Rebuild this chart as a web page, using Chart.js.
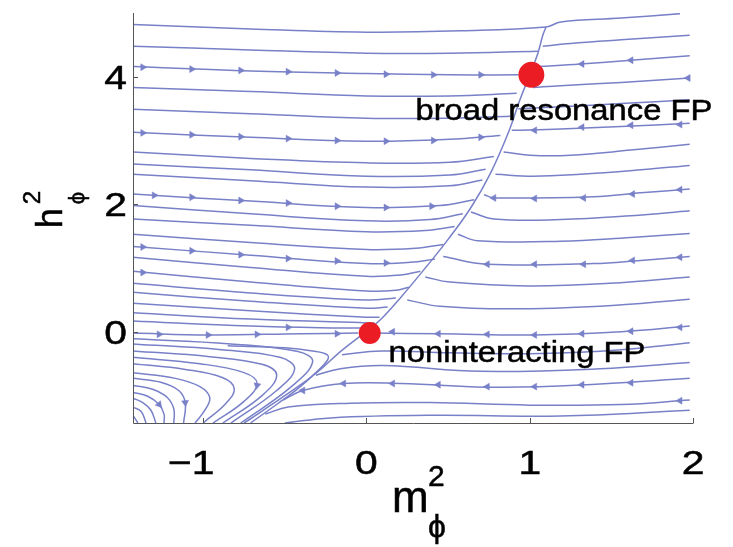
<!DOCTYPE html>
<html><head><meta charset="utf-8">
<script src="https://cdn.jsdelivr.net/npm/chart.js@4"></script>
<style>html,body{margin:0;padding:0;background:#fff}#wrap{width:733px;height:547px}</style>
</head><body><div id="wrap"><canvas id="c" width="733" height="547"></canvas></div>
<script>
// ---------- data (in m_phi^2 / h_phi^2 units) ----------
const xTicks = [-1, 0, 1, 2];
const xTickLabels = ['\u22121', '0', '1', '2'];
const yTicks = [0, 2, 4];
const yTickLabels = ['0', '2', '4'];

const fixedPoints = [[0.02, -0.02], [1.01, 4.03]];
const fixedPointLabels = ['noninteracting FP', 'broad resonance FP'];

const separatrix = [[-0.75,-1.43],[-0.66,-1.28],[-0.54,-1.07],[-0.42,-0.86],[-0.29,-0.61],[-0.16,-0.31],[-0.05,-0.09],[0,0],[0.09,0.20],[0.21,0.54],[0.36,1.00],[0.50,1.45],[0.64,1.95],[0.76,2.49],[0.87,3.13],[0.94,3.64],[1.00,4.03],[1.05,4.37],[1.08,4.65],[1.10,4.78]];

const topLine = [[-1.43,4.82],[-0.71,4.75],[0,4.70],[0.58,4.72],[1.10,4.78],[1.19,4.86],[1.56,4.92],[1.92,4.99]];

const leftLines = [
  [[-1.43,4.48],[-0.71,4.42],[0,4.37],[0.51,4.37],[1.05,4.40]],
  [[-1.43,4.16],[-0.71,4.09],[0,4.05],[0.51,4.03],[0.93,4.03]],
  [[-1.43,3.83],[-0.71,3.77],[0,3.70],[0.51,3.70],[0.92,3.74]],
  [[-1.43,3.49],[-0.71,3.42],[0,3.35],[0.51,3.35],[0.88,3.38]],
  [[-1.43,3.13],[-0.71,3.05],[0,2.99],[0.51,3.02],[0.82,3.08]],
  [[-1.43,2.82],[-0.71,2.72],[0,2.65],[0.51,2.66],[0.78,2.75]],
  [[-1.43,2.63],[-0.71,2.54],[0,2.44],[0.51,2.46],[0.73,2.55]],
  [[-1.43,2.47],[-0.71,2.37],[0,2.27],[0.51,2.29],[0.71,2.38]],
  [[-1.43,2.16],[-0.71,2.05],[0,1.95],[0.45,1.98],[0.66,2.07]],
  [[-1.43,1.98],[-0.71,1.85],[0,1.74],[0.39,1.76],[0.59,1.85]],
  [[-1.43,1.77],[-0.71,1.67],[0,1.57],[0.36,1.59],[0.54,1.65]],
  [[-1.43,1.53],[-0.71,1.40],[0,1.29],[0.30,1.31],[0.47,1.37]],
  [[-1.43,1.34],[-0.71,1.20],[0,1.07],[0.27,1.09],[0.42,1.14]],
  [[-1.43,1.17],[-0.71,1.01],[0,0.87],[0.21,0.89],[0.33,0.95]],
  [[-1.43,0.95],[-0.71,0.78],[0,0.64],[0.18,0.65],[0.26,0.70]],
  [[-1.43,0.76],[-0.71,0.61],[0,0.50],[0.18,0.53]],
  [[-1.43,0.62],[-0.71,0.48],[0,0.37],[0.13,0.39]],
  [[-1.43,0.45],[-0.71,0.33],[0,0.23],[0.08,0.23]],
  [[-1.43,0.30],[-0.71,0.20],[0,0.14],[0.05,0.14]],
  [[-1.43,0.17],[-0.71,0.09],[-0.16,0.06],[0,0.06]],
  [[-1.43,-0.02],[-0.97,-0.05],[-0.40,-0.03],[-0.05,-0.02]]
];

const lowerLeftLines = [
  [[-0.85,-0.22],[-0.50,-0.25],[-0.33,-0.30],[-0.24,-0.36],[-0.24,-0.45],[-0.31,-0.64],[-0.42,-0.89],[-0.54,-1.12],[-0.71,-1.43]],
  [[-1.43,-0.11],[-0.83,-0.19],[-0.42,-0.31],[-0.33,-0.47],[-0.46,-0.86],[-0.77,-1.43]],
  [[-1.43,-0.19],[-0.89,-0.28],[-0.53,-0.40],[-0.44,-0.58],[-0.55,-0.92],[-0.83,-1.43]],
  [[-1.43,-0.30],[-0.96,-0.39],[-0.64,-0.51],[-0.55,-0.68],[-0.64,-1.00],[-0.88,-1.43]],
  [[-1.43,-0.40],[-1.02,-0.50],[-0.75,-0.64],[-0.67,-0.81],[-0.75,-1.09],[-0.94,-1.43]],
  [[-1.43,-0.50],[-1.11,-0.59],[-0.88,-0.72],[-0.81,-0.89],[-0.86,-1.12],[-1.00,-1.43]],
  [[-1.43,-0.64],[-1.17,-0.73],[-1.02,-0.86],[-0.96,-1.03],[-0.99,-1.23],[-1.05,-1.43]],
  [[-1.43,-0.73],[-1.26,-0.79],[-1.15,-0.92],[-1.11,-1.11],[-1.12,-1.43]],
  [[-1.43,-0.84],[-1.31,-0.90],[-1.22,-1.03],[-1.18,-1.21],[-1.18,-1.43]],
  [[-1.43,-0.95],[-1.34,-1.01],[-1.27,-1.14],[-1.24,-1.29],[-1.24,-1.43]],
  [[-1.43,-1.04],[-1.37,-1.11],[-1.32,-1.23],[-1.29,-1.43]],
  [[-1.43,-1.18],[-1.38,-1.25],[-1.35,-1.43]],
  [[-1.43,-1.31],[-1.40,-1.43]]
];

const rightLines = [
  [[1.08,4.48],[1.28,4.53],[1.56,4.58],[1.98,4.65]],
  [[1.05,4.16],[1.31,4.20],[1.62,4.26],[1.98,4.33]],
  [[1.02,3.83],[1.19,3.86],[1.56,3.91],[1.98,3.98]],
  [[0.93,3.50],[1.19,3.53],[1.56,3.58],[1.98,3.64]],
  [[0.89,3.16],[1.19,3.18],[1.56,3.22],[1.98,3.27]],
  [[0.84,2.82],[1.00,2.77],[1.25,2.77],[1.62,2.85],[1.98,2.94]],
  [[0.79,2.47],[1.02,2.44],[1.31,2.47],[1.68,2.54],[1.98,2.61]],
  [[0.72,2.15],[0.78,2.10],[1.39,2.12],[1.68,2.18],[1.98,2.24]],
  [[0.64,1.88],[0.78,1.77],[1.19,1.76],[1.62,1.82],[1.98,1.90]],
  [[0.56,1.53],[0.68,1.43],[1.19,1.42],[1.62,1.48],[1.98,1.54]],
  [[0.47,1.18],[0.74,1.06],[1.39,1.07],[1.68,1.12],[1.98,1.18]],
  [[0.36,0.86],[0.51,0.78],[0.99,0.72],[1.49,0.76],[1.98,0.86]],
  [[0.25,0.50],[0.45,0.40],[0.88,0.36],[1.43,0.40],[1.98,0.51]],
  [[0.04,-0.02],[0.45,-0.03],[1.03,-0.05],[1.56,0.00],[1.98,0.09]],
  [[-0.15,-0.36],[0.09,-0.30],[0.51,-0.33],[1.07,-0.34],[1.56,-0.28],[1.98,-0.17]],
  [[-0.31,-0.68],[-0.16,-0.58],[0.10,-0.53],[0.70,-0.62],[1.43,-0.58],[1.98,-0.48]],
  [[-0.51,-1.07],[-0.39,-0.92],[-0.14,-0.81],[0.21,-0.81],[0.82,-0.87],[1.43,-0.82],[1.98,-0.73]],
  [[-0.62,-1.29],[-0.48,-1.18],[-0.10,-1.12],[0.39,-1.11],[1.00,-1.15],[1.56,-1.14],[1.98,-1.07]],
  [[-0.50,-1.43],[-0.22,-1.35],[0.39,-1.31],[1.19,-1.32],[1.98,-1.23]]
];

// arrowheads: flow to the right, flow to the left, flow downward
const arrowsRight = [
  [-1.37,4.15],[-1.07,4.12],[-0.77,4.10],[-0.48,4.08],[-0.18,4.06],[0.12,4.04],[0.41,4.03],[0.70,4.03],
  [-1.37,3.12],[-1.07,3.09],[-0.77,3.06],[-0.48,3.03],[-0.18,3.00],[0.12,2.99],[0.41,3.00],[0.70,3.05],
  [-1.30,2.14],[-1.07,2.11],[-0.77,2.06],[-0.48,2.02],[-0.18,1.97],[0.12,1.95],[0.40,1.97],
  [-1.37,1.33],[-1.07,1.27],[-0.77,1.21],[-0.48,1.15],[-0.18,1.11],[0.12,1.08],
  [-1.37,0.93],
  [-0.48,0.07],
  [-1.27,-0.04],[-0.97,-0.05],[-0.67,-0.04],[-0.18,-0.03]
];
const arrowsLeft = [
  [1.32,4.20],[1.62,4.26],
  [1.97,3.98],
  [1.03,3.16],[1.32,3.21],[1.62,3.24],[1.92,3.25],
  [0.78,2.10],[1.03,2.09],[1.33,2.10],[1.63,2.16],[1.92,2.23],
  [0.74,1.06],[1.03,1.06],[1.33,1.06],[1.63,1.12],[1.92,1.17],
  [0.16,0.00],[0.44,-0.03],[0.74,-0.04],[1.03,-0.05],[1.32,-0.03],[1.62,0.01],[1.92,0.07],
  [-0.39,-0.92],[-0.14,-0.81],[0.16,-0.81],[0.44,-0.83],[0.74,-0.86],[1.03,-0.86],[1.32,-0.83],[1.62,-0.80],
  [1.92,-1.08]
];
const arrowsDown = [[-1.27,-1.14],[-1.11,-1.11],[-0.67,-0.84]];
const arrowsDownAngle = [140, 175, 190];

// ---------- chart ----------
const LINE = '#7880c8';
const FONT = '"Liberation Sans", Arial, Helvetica, sans-serif';
const pts = a => a.map(p => ({x: p[0], y: p[1]}));

const datasets = [];
datasets.push({data: pts(fixedPoints), pointRadius: [11, 13], pointBackgroundColor: '#ec1c24',
  pointBorderWidth: 0, pointBorderColor: '#ec1c24', pointStyle: 'circle', order: 1});
datasets.push({data: pts(arrowsRight), pointStyle: 'triangle', pointRotation: 90, pointRadius: 4,
  pointBackgroundColor: LINE, pointBorderColor: LINE, pointBorderWidth: 0.5, order: 2});
datasets.push({data: pts(arrowsLeft), pointStyle: 'triangle', pointRotation: 270, pointRadius: 4,
  pointBackgroundColor: LINE, pointBorderColor: LINE, pointBorderWidth: 0.5, order: 2});
datasets.push({data: pts(arrowsDown), pointStyle: 'triangle', pointRotation: arrowsDownAngle, pointRadius: 4,
  pointBackgroundColor: LINE, pointBorderColor: LINE, pointBorderWidth: 0.5, order: 2});
[separatrix, topLine].concat(leftLines, lowerLeftLines, rightLines).forEach(l => {
  datasets.push({data: pts(l), showLine: true, borderColor: LINE, borderWidth: 1.5,
    pointRadius: 0, tension: 0.4, fill: false, order: 3});
});

function sText(ctx, str, px, py, size, align, sx) {
  ctx.save();
  ctx.translate(px, py);
  ctx.scale(sx, 1);
  ctx.font = size + 'px ' + FONT;
  ctx.textAlign = align;
  ctx.textBaseline = 'alphabetic';
  ctx.fillStyle = '#000';
  ctx.strokeStyle = '#000';
  ctx.lineWidth = 0.5;
  ctx.fillText(str, 0, 0);
  ctx.strokeText(str, 0, 0);
  ctx.restore();
}

const deco = {
  id: 'deco',
  afterDraw(chart) {
    const {ctx, chartArea: a, scales: {x, y}} = chart;
    ctx.save();
    ctx.strokeStyle = '#555';
    ctx.lineWidth = 1;
    ctx.beginPath();
    ctx.moveTo(a.left + 0.5, a.top);
    ctx.lineTo(a.left + 0.5, a.bottom + 0.5);
    ctx.lineTo(a.right + 0.5, a.bottom + 0.5);
    xTicks.forEach(v => { const p = Math.round(x.getPixelForValue(v)) + 0.5; ctx.moveTo(p, a.bottom); ctx.lineTo(p, a.bottom - 5); });
    yTicks.forEach(v => { const p = Math.round(y.getPixelForValue(v)) + 0.5; ctx.moveTo(a.left, p); ctx.lineTo(a.left + 5, p); });
    ctx.stroke();
    ctx.restore();

    // tick labels
    const TS = 34, TSX = 1.2;
    ctx.save();
    ctx.font = TS + 'px ' + FONT;
    xTicks.forEach((v, i) => {
      const lab = xTickLabels[i];
      const digits = lab.replace('\u2212', '');
      const w = ctx.measureText(digits).width * TSX;
      sText(ctx, lab, x.getPixelForValue(v) + w / 2, a.bottom + 51, TS, 'right', TSX);
    });
    yTicks.forEach((v, i) => {
      sText(ctx, yTickLabels[i], a.left - 6, y.getPixelForValue(v) + 12, TS, 'right', TSX);
    });
    ctx.restore();

    // fixed point labels
    sText(ctx, fixedPointLabels[0], x.getPixelForValue(0.135), y.getPixelForValue(-0.47), 29, 'left', 1.13);
    sText(ctx, fixedPointLabels[1], x.getPixelForValue(0.30), y.getPixelForValue(3.32), 29, 'left', 1.13);

    // x title  m^2_phi
    const cx = (a.left + a.right) / 2;
    sText(ctx, 'm', cx - 21, a.bottom + 89, 44, 'left', 1.0);
    sText(ctx, '2', cx + 15, a.bottom + 63, 30, 'left', 1.0);
    sText(ctx, '\u03d5', cx + 15, a.bottom + 114, 32, 'left', 1.0);

    // y title  h^2_phi (rotated)
    const cy = y.getPixelForValue(2);
    ctx.save();
    ctx.translate(62, cy + 24);
    ctx.rotate(-Math.PI / 2);
    ctx.fillStyle = '#000';
    ctx.strokeStyle = '#000';
    ctx.lineWidth = 0.5;
    ctx.textBaseline = 'alphabetic';
    ctx.font = '36px ' + FONT;
    ctx.fillText('h', 0, 0); ctx.strokeText('h', 0, 0);
    ctx.font = '24px ' + FONT;
    ctx.fillText('2', 24, -22); ctx.strokeText('2', 24, -22);
    ctx.font = '22px ' + FONT;
    ctx.fillText('\u03d5', 24, 22); ctx.strokeText('\u03d5', 24, 22);
    ctx.restore();
  }
};

new Chart(document.getElementById('c'), {
  type: 'scatter',
  data: {datasets},
  options: {
    responsive: false,
    animation: false,
    events: [],
    layout: {padding: {left: 0, right: 40, top: 10, bottom: 0}},
    plugins: {legend: {display: false}, tooltip: {enabled: false}},
    scales: {
      x: {type: 'linear', min: -1.43, max: 2, ticks: {display: false}, grid: {display: false},
          border: {display: false}, afterFit(s) { s.height = 124; }},
      y: {type: 'linear', min: -1.43, max: 5, ticks: {display: false}, grid: {display: false},
          border: {display: false}, afterFit(s) { s.width = 133; }}
    }
  },
  plugins: [deco]
});
</script>
</body></html>
